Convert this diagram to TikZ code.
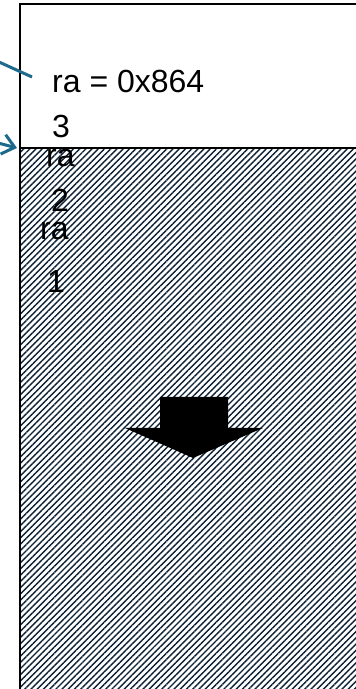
\documentclass[tikz,border=0pt]{standalone}
\usepackage{fontspec}
\setmainfont{Liberation Sans}
\usetikzlibrary{arrows.meta,patterns.meta}
\definecolor{ptrteal}{RGB}{30,106,140}
\definecolor{hatchc}{RGB}{12,32,52}

\begin{document}
\begin{tikzpicture}[x=1pt,y=1pt,
  lbl/.style={anchor=base west, inner sep=0pt, font=\fontsize{32}{38}\selectfont},
  ptr/.style={draw=ptrteal, line width=3pt},
  wall/.style={line width=2.9pt}]
\useasboundingbox (0,0) rectangle (356,689);
\clip (0,0) rectangle (356,689);
% used part of the stack
\fill[pattern={Lines[angle=45,distance=4.4pt,line width=1.4pt]}, pattern color=hatchc] (20,0) rectangle (360,541);
\draw[wall] (20,-5) -- (20,685) -- (362,685);
\draw[wall] (20,541) -- (362,541);
% saved values
\node[lbl] (rav) at (52,596) {ra = 0x864};
\node[lbl] (n3) at (52,551) {3};
\node[lbl] (ra2) at (46,522) {ra};
\node[lbl] (n2) at (51,477) {2};
\node[lbl] (ra1) at (40,449) {ra};
\node[lbl] (n1) at (47,396) {1};
% pointers
\coordinate (fpA) at (-1,627);
\coordinate (fpB) at (32,612);
\coordinate (spA) at (-2,546);
\coordinate (spB) at (17,541);
\draw[ptr] (fpA) -- (fpB);
\draw[ptr, -{Straight Barb[length=12pt,width=20pt]}] (spA) -- (spB);
% growth direction
\fill (160,292) -- (228,292) -- (228,261) -- (263,261) -- (193,231) -- (125,261) -- (160,261) -- cycle;
\end{tikzpicture}
\end{document}
